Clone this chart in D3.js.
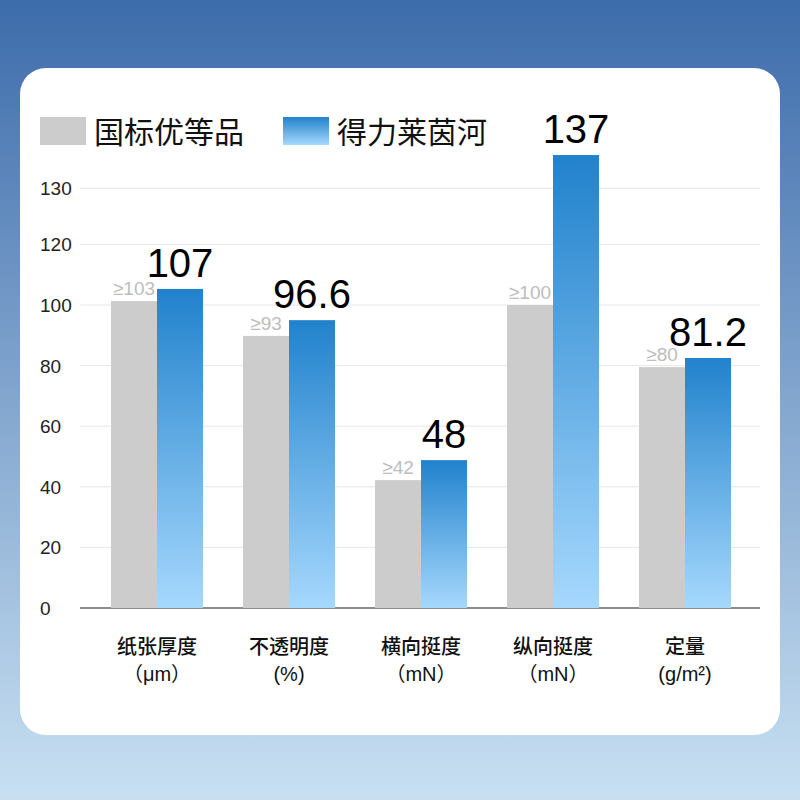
<!DOCTYPE html>
<html><head><meta charset="utf-8">
<script src="https://cdn.jsdelivr.net/npm/d3@7"></script>
<style>body{margin:0}svg{display:block;font-family:"Liberation Sans","Noto Sans CJK SC",sans-serif}</style>
</head><body><div id="chart"></div>
<script>
var categories = ["纸张厚度", "不透明度", "横向挺度", "纵向挺度", "定量"];
var units = ["（μm）", "(%)", "（mN）", "（mN）", "(g/m²)"];
var standardValues = [101.3, 89.8, 42.2, 100, 79.5];
var standardLabels = ["≥103", "≥93", "≥42", "≥100", "≥80"];
var brandValues = [105.3, 95, 48.8, 149.5, 82.5];
var brandLabels = ["107", "96.6", "48", "137", "81.2"];
var tickValues = [0, 20, 40, 60, 80, 100, 120, 138.5];
var tickLabels = ["0", "20", "40", "60", "80", "100", "120", "130"];
var seriesNames = ["国标优等品", "得力莱茵河"];

var svg = d3.select("#chart").append("svg").attr("width", 800).attr("height", 800);
var defs = svg.append("defs");
var bg = defs.append("linearGradient").attr("id", "bg").attr("x1", 0).attr("y1", 0).attr("x2", 0).attr("y2", 1);
bg.append("stop").attr("offset", "0%").attr("stop-color", "#3d6cab");
bg.append("stop").attr("offset", "100%").attr("stop-color", "#c8e0f2");
var bl = defs.append("linearGradient").attr("id", "blue").attr("x1", 0).attr("y1", 0).attr("x2", 0).attr("y2", 1);
bl.append("stop").attr("offset", "0%").attr("stop-color", "#2182cc");
bl.append("stop").attr("offset", "100%").attr("stop-color", "#a6d8fd");

svg.append("rect").attr("width", 800).attr("height", 800).attr("fill", "url(#bg)");
svg.append("rect").attr("x", 20).attr("y", 68).attr("width", 760).attr("height", 667).attr("rx", 26).attr("fill", "#fff");

var y = d3.scaleLinear().domain([0, 100]).range([608, 305]);
var x = d3.scaleBand().domain(categories).range([91, 751]).paddingInner(0.303).paddingOuter(0.1515);
var barW = 46;

// grid + y labels
svg.selectAll("line.grid").data(tickValues.slice(1)).enter().append("line")
  .attr("x1", 80).attr("x2", 760).attr("y1", d => y(d)).attr("y2", d => y(d))
  .attr("stroke", "#e6e6e6").attr("stroke-width", 1);
svg.selectAll("text.ytick").data(tickValues).enter().append("text")
  .attr("x", 40).attr("y", d => y(d) + 7).attr("font-size", 19).attr("fill", "#222")
  .text((d, i) => tickLabels[i]);
svg.append("line").attr("x1", 80).attr("x2", 760).attr("y1", y(0)).attr("y2", y(0))
  .attr("stroke", "#666").attr("stroke-width", 1.5);

var groups = svg.selectAll("g.grp").data(categories).enter().append("g")
  .attr("transform", d => `translate(${x(d) + x.bandwidth() / 2},0)`);

groups.append("rect").attr("x", -barW).attr("width", barW)
  .attr("y", (d, i) => y(standardValues[i])).attr("height", (d, i) => y(0) - y(standardValues[i]))
  .attr("fill", "#cccccc");
groups.append("rect").attr("x", 0).attr("width", barW)
  .attr("y", (d, i) => y(brandValues[i])).attr("height", (d, i) => y(0) - y(brandValues[i]))
  .attr("fill", "url(#blue)");
groups.append("text").attr("x", -barW / 2).attr("y", (d, i) => y(standardValues[i]) - 6)
  .attr("text-anchor", "middle").attr("font-size", 19).attr("fill", "#bdbdbd")
  .text((d, i) => standardLabels[i]);
groups.append("text").attr("x", barW / 2).attr("y", (d, i) => y(brandValues[i]) - 12)
  .attr("text-anchor", "middle").attr("font-size", 40).attr("fill", "#000")
  .text((d, i) => brandLabels[i]);
groups.append("text").attr("y", 654).attr("text-anchor", "middle").attr("font-size", 20).attr("fill", "#111")
  .attr("font-weight", 500).text(d => d);
groups.append("text").attr("y", 681).attr("text-anchor", "middle").attr("font-size", 20).attr("fill", "#111")
  .text((d, i) => units[i]);

// legend
var legend = svg.selectAll("g.leg").data(seriesNames).enter().append("g")
  .attr("transform", (d, i) => `translate(${40 + i * 243},117)`);
legend.append("rect").attr("width", 46).attr("height", 28).attr("fill", (d, i) => i ? "url(#blue)" : "#cccccc");
legend.append("text").attr("x", 54).attr("y", 26).attr("font-size", 30).attr("fill", "#111").text(d => d);
</script></body></html>
